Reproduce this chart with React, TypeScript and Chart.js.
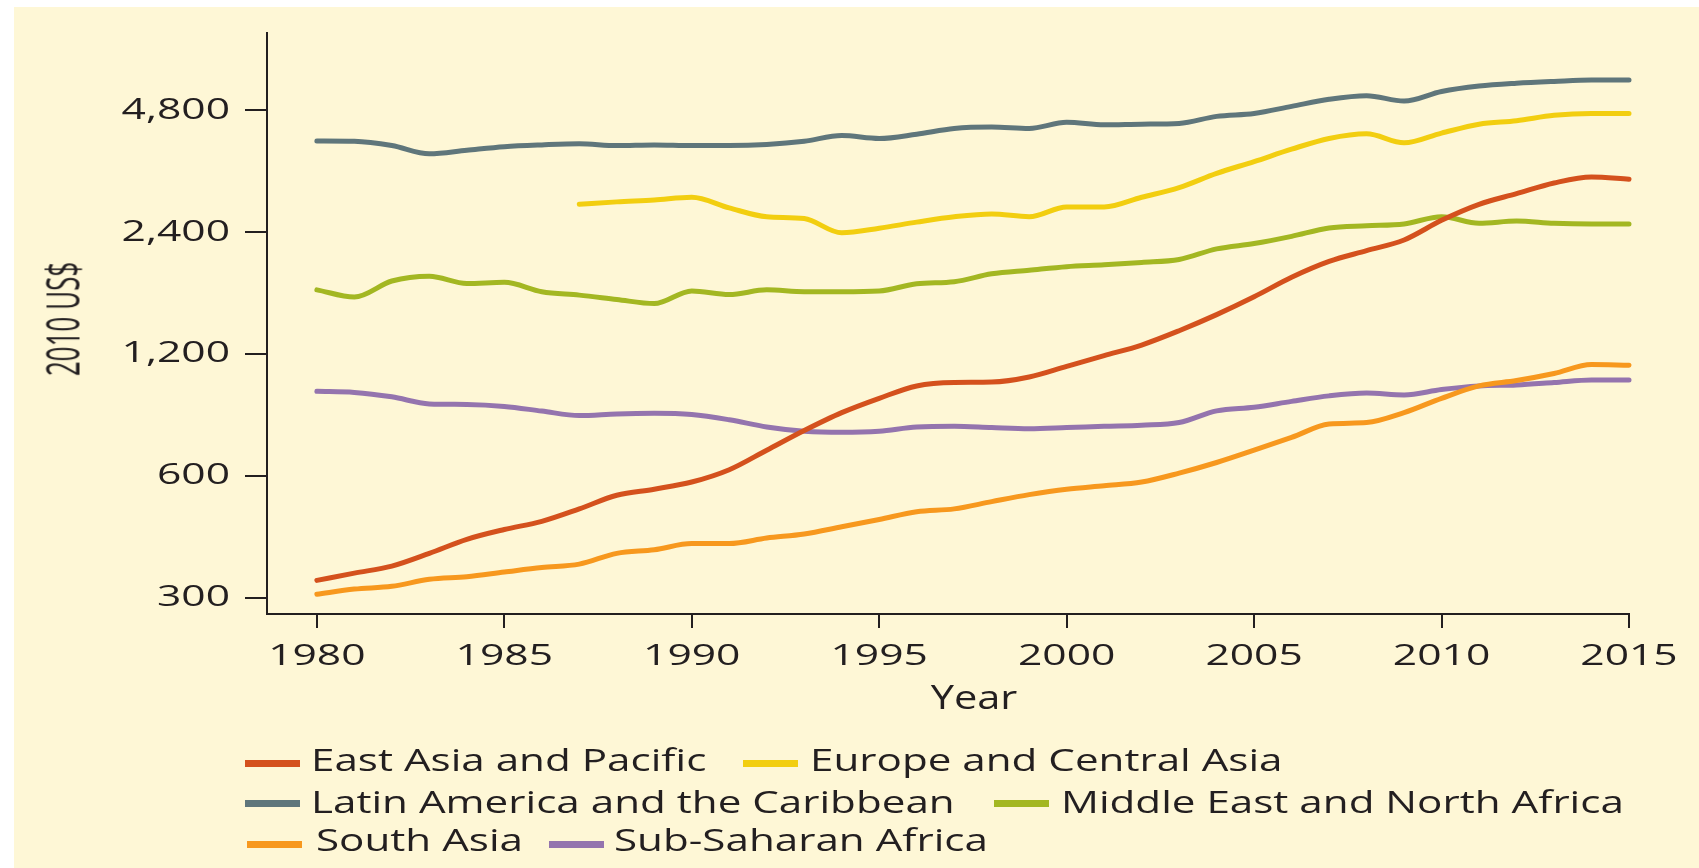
import React, { useEffect, useRef } from 'react';
import { Chart, registerables } from 'chart.js';

Chart.register(...registerables);

// ---------- data ----------
const years = [
  1980, 1981, 1982, 1983, 1984, 1985, 1986, 1987, 1988, 1989,
  1990, 1991, 1992, 1993, 1994, 1995, 1996, 1997, 1998, 1999,
  2000, 2001, 2002, 2003, 2004, 2005, 2006, 2007, 2008, 2009,
  2010, 2011, 2012, 2013, 2014, 2015,
];

const eastAsiaPacific = [
  331, 345, 359, 386, 418, 442, 463, 497, 537, 556,
  579, 621, 694, 776, 859, 932, 1000, 1020, 1022, 1052,
  1118, 1188, 1262, 1369, 1500, 1660, 1855, 2030, 2158, 2293,
  2564, 2808, 2984, 3171, 3283, 3237,
];

const europeCentralAsia = [
  null, null, null, null, null, null, null, 2808, 2848, 2878,
  2924, 2752, 2617, 2590, 2388, 2451, 2538, 2617, 2659, 2617,
  2768, 2768, 2924, 3089, 3349, 3581, 3843, 4085, 4195, 3985,
  4212, 4430, 4519, 4660, 4708, 4708,
];

const latinAmericaCaribbean = [
  4027, 4020, 3923, 3744, 3821, 3898, 3938, 3963, 3923, 3938,
  3923, 3923, 3947, 4020, 4152, 4084, 4185, 4323, 4357, 4323,
  4476, 4413, 4430, 4448, 4631, 4708, 4902, 5104, 5209, 5052,
  5335, 5502, 5590, 5648, 5693, 5693,
];

const middleEastNorthAfrica = [
  1727, 1658, 1816, 1866, 1791, 1802, 1709, 1676, 1635, 1597,
  1716, 1682, 1727, 1709, 1709, 1716, 1788, 1809, 1892, 1931,
  1970, 1991, 2018, 2052, 2180, 2247, 2341, 2455, 2486, 2512,
  2617, 2522, 2554, 2522, 2512, 2512,
];

const southAsia = [
  306, 315, 320, 333, 338, 347, 356, 363, 386, 394,
  408, 408, 421, 431, 449, 468, 489, 497, 518, 539,
  556, 567, 579, 609, 647, 694, 746, 805, 812, 859,
  932, 1000, 1031, 1073, 1129, 1125,
];

const subSaharanAfrica = [
  970, 964, 940, 903, 900, 890, 867, 845, 853, 856,
  850, 825, 792, 773, 768, 773, 792, 795, 789, 784,
  789, 795, 800, 812, 868, 886, 916, 945, 960, 950,
  980, 1000, 1006, 1020, 1035, 1035,
];

const seriesNames = [
  'East Asia and Pacific',
  'Europe and Central Asia',
  'Latin America and the Caribbean',
  'Middle East and North Africa',
  'South Asia',
  'Sub-Saharan Africa',
];

const seriesValues = [
  eastAsiaPacific,
  europeCentralAsia,
  latinAmericaCaribbean,
  middleEastNorthAfrica,
  southAsia,
  subSaharanAfrica,
];

const seriesColors = ['#D4511D', '#F2CE10', '#5F767B', '#A3B722', '#F7981E', '#9474AE'];

const yTickValues = [300, 600, 1200, 2400, 4800];
const xTickValues = [1980, 1985, 1990, 1995, 2000, 2005, 2010, 2015];
const yAxisTitle = '2010 US$';
const xAxisTitle = 'Year';

// ---------- styles ----------
const INK = '#231F20';
const CREAM = '#FEF7D6';
const FONT = "'Open Sans', 'Noto Sans', sans-serif";
const TICK_STRETCH = 1.42;

const legendLayout = [
  { sx: 245, sy: 763, tx: 311, base: 771.7 },
  { sx: 743, sy: 763, tx: 810, base: 771.7 },
  { sx: 245, sy: 803.5, tx: 311, base: 813.3 },
  { sx: 994, sy: 803.5, tx: 1061, base: 813.3 },
  { sx: 247, sy: 844, tx: 316, base: 851.7 },
  { sx: 549, sy: 844, tx: 614, base: 851.7 },
];

// Widen the tick-label glyphs (the source artwork is horizontally stretched):
// Chart.js still places and writes every label; each fillText is scaled about its anchor.
const stretchTextPlugin = {
  id: 'stretchTickText',
  beforeDraw(chart: any) {
    const ctx = chart.ctx as any;
    if (!ctx.__origFillText) {
      const orig = ctx.fillText;
      ctx.__origFillText = orig;
      ctx.fillText = function (text: string, x: number, y: number) {
        this.save();
        this.translate(x, y);
        this.scale(TICK_STRETCH, 1);
        orig.call(this, text, 0, 0);
        this.restore();
      };
    }
  },
  afterDraw(chart: any) {
    const ctx = chart.ctx as any;
    if (ctx.__origFillText) {
      ctx.fillText = ctx.__origFillText;
      delete ctx.__origFillText;
    }
  },
};

export default function App() {
  const canvasRef = useRef<HTMLCanvasElement | null>(null);

  useEffect(() => {
    document.body.style.margin = '0';
    document.body.style.overflow = 'hidden';
    const canvas = canvasRef.current;
    if (!canvas) return;

    const datasets = seriesNames.map((name, i) => ({
      label: name,
      data: years.map((yr, j) => ({ x: yr, y: seriesValues[i][j] })),
      borderColor: seriesColors[i],
      backgroundColor: seriesColors[i],
      borderWidth: 5,
      pointRadius: 0,
      pointHoverRadius: 0,
      tension: 0.4,
      cubicInterpolationMode: 'monotone' as const,
      borderCapStyle: 'round' as const,
      borderJoinStyle: 'round' as const,
      spanGaps: false,
      clip: false as any,
      fill: false,
    }));

    const chart = new Chart(canvas, {
      type: 'line',
      data: { datasets },
      plugins: [stretchTextPlugin],
      options: {
        responsive: false,
        animation: false,
        events: [],
        layout: { padding: { left: 0, right: 70, top: 33, bottom: 154 } },
        plugins: {
          legend: { display: false },
          tooltip: { enabled: false },
          title: { display: false },
        },
        scales: {
          x: {
            type: 'linear',
            min: 1978.67,
            max: 2015,
            afterBuildTicks: (scale: any) => {
              scale.ticks = xTickValues.map((v) => ({ value: v }));
            },
            afterFit: (scale: any) => {
              scale.height = 100;
            },
            grid: {
              drawOnChartArea: false,
              drawTicks: true,
              tickLength: 14,
              color: INK,
              lineWidth: 2,
            },
            border: { display: true, color: INK, width: 2 },
            ticks: {
              font: { family: FONT, size: 30 },
              color: INK,
              padding: 10,
              maxRotation: 0,
              minRotation: 0,
              autoSkip: false,
              callback: (v: any) => String(v),
            },
          },
          y: {
            type: 'logarithmic',
            min: 273.4,
            max: 7440,
            afterBuildTicks: (scale: any) => {
              scale.ticks = yTickValues.map((v) => ({ value: v }));
            },
            afterFit: (scale: any) => {
              scale.width = 267;
            },
            grid: {
              drawOnChartArea: false,
              drawTicks: true,
              tickLength: 22,
              color: INK,
              lineWidth: 2,
            },
            border: { display: true, color: INK, width: 2 },
            ticks: {
              font: { family: FONT, size: 30 },
              color: INK,
              padding: 15,
              autoSkip: false,
              callback: (v: any) => Number(v).toLocaleString('en-US'),
            },
          },
        },
      },
    });

    return () => {
      chart.destroy();
    };
  }, []);

  const legendSize = 31;

  return (
    <div
      style={{
        position: 'absolute',
        left: 0,
        top: 0,
        width: 1699,
        height: 868,
        background: '#ffffff',
        overflow: 'hidden',
        fontFamily: FONT,
        color: INK,
      }}
    >
      <div style={{ position: 'absolute', left: 14, top: 7, right: 0, bottom: 0, background: CREAM }} />
      <canvas
        ref={canvasRef}
        width={1699}
        height={868}
        style={{ position: 'absolute', left: 0, top: 0, width: 1699, height: 868 }}
      />
      {/* y-axis title */}
      <div
        style={{
          position: 'absolute',
          left: 62,
          top: 319,
          fontSize: 26,
          lineHeight: '26px',
          whiteSpace: 'nowrap',
          transform: 'translate(-50%, -50%) rotate(-90deg) scale(1, 1.75)',
        }}
      >
        {yAxisTitle}
      </div>
      {/* x-axis title */}
      <div
        style={{
          position: 'absolute',
          left: 973.5,
          top: 697.4,
          fontSize: 32,
          lineHeight: '32px',
          whiteSpace: 'nowrap',
          transform: 'translate(-50%, -50%) scaleX(1.3)',
        }}
      >
        {xAxisTitle}
      </div>
      {/* legend */}
      {seriesNames.map((name, i) => {
        const p = legendLayout[i];
        return (
          <React.Fragment key={name}>
            <div
              style={{
                position: 'absolute',
                left: p.sx,
                top: p.sy - 3.5,
                width: 55,
                height: 7,
                background: seriesColors[i],
              }}
            />
            <div
              style={{
                position: 'absolute',
                left: p.tx,
                top: p.base - 0.888 * legendSize,
                fontSize: legendSize,
                lineHeight: `${legendSize}px`,
                whiteSpace: 'nowrap',
                transformOrigin: '0 0',
                transform: 'scaleX(1.36)',
              }}
            >
              {name}
            </div>
          </React.Fragment>
        );
      })}
    </div>
  );
}
